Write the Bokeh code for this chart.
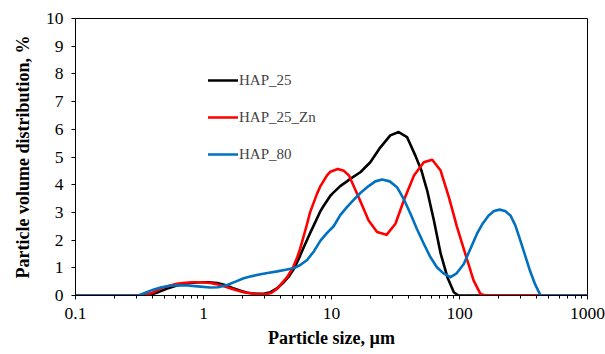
from bokeh.plotting import figure
from bokeh.models import Legend, LegendItem, FixedTicker, CustomJSTickFormatter, Range1d
from bokeh.embed import file_html
from bokeh.resources import INLINE

# ---- data ----
hap25_x = [0.1, 0.37, 0.43, 0.52, 0.62, 0.70, 0.82, 0.95, 1.1, 1.28, 1.5, 1.73, 1.95, 2.19, 2.63,
           3.0, 3.34, 3.8, 4.24, 4.7, 5.1, 5.7, 6.07, 6.8, 7.3, 8.2, 8.72, 9.8, 10.4, 11.7, 13.2,
           14.1, 16.8, 20.1, 24.1, 28.8, 33.5, 38.9, 45.2, 50.5, 55.9, 63.1, 71.2, 80.4, 90.3, 98, 1000]
hap25_y = [0, 0, 0.1, 0.25, 0.36, 0.42, 0.46, 0.48, 0.48, 0.45, 0.37, 0.25, 0.17, 0.1, 0.06,
           0.07, 0.12, 0.28, 0.48, 0.72, 0.97, 1.45, 1.74, 2.25, 2.55, 3.05, 3.25, 3.6, 3.72, 3.95, 4.12,
           4.22, 4.45, 4.81, 5.35, 5.78, 5.9, 5.72, 5.05, 4.5, 3.79, 2.71, 1.52, 0.66, 0.12, 0.0, 0]

hap25zn_x = [0.1, 0.34, 0.4, 0.46, 0.54, 0.62, 0.72, 0.84, 0.98, 1.13, 1.32, 1.53, 1.78, 2.06, 2.5,
             3.05, 3.4, 3.77, 4.5, 5.0, 5.4, 5.7, 6.45, 6.8, 7.7, 8.2, 9.2, 9.8, 11.2, 12.5, 13.7,
             16.3, 19.5, 22.7, 26.9, 31.6, 36.7, 44.1, 52.6, 61.2, 71.2, 82.6, 95.7, 111, 129, 146, 160, 1000]
hap25zn_y = [0, 0, 0.1, 0.25, 0.35, 0.42, 0.46, 0.48, 0.48, 0.45, 0.39, 0.3, 0.2, 0.12, 0.06,
             0.04, 0.1, 0.25, 0.66, 1.0, 1.38, 1.7, 2.59, 3.0, 3.67, 3.95, 4.33, 4.47, 4.57, 4.5, 4.33,
             3.55, 2.71, 2.29, 2.19, 2.59, 3.43, 4.33, 4.81, 4.9, 4.51, 3.55, 2.47, 1.5, 0.54, 0.05, 0, 0]

hap80_x = [0.1, 0.31, 0.36, 0.41, 0.47, 0.55, 0.65, 0.75, 0.9, 1.13, 1.3, 1.53, 1.78, 2.06, 2.4,
           2.79, 3.25, 3.77, 4.4, 5.1, 5.7, 6.45, 7.3, 8.2, 9.2, 10.4, 11.7, 13.2, 14.9, 16.8, 19.5,
           22, 24.9, 28.5, 32.5, 36.5, 41.4, 46.5, 52.6, 59, 66.6, 75, 85, 95, 108, 122, 137, 152,
           169, 186, 206, 227, 250, 273, 299, 326, 355, 390, 430, 1000]
hap80_y = [0, 0, 0.12, 0.22, 0.3, 0.35, 0.37, 0.36, 0.33, 0.29, 0.3, 0.38, 0.5, 0.62, 0.7,
           0.77, 0.82, 0.87, 0.93, 0.99, 1.1, 1.28, 1.6, 1.98, 2.25, 2.5, 2.9, 3.19, 3.45, 3.7, 3.95,
           4.12, 4.19, 4.12, 3.91, 3.5, 2.95, 2.4, 1.87, 1.4, 1.02, 0.8, 0.66, 0.8, 1.14, 1.7, 2.23, 2.6,
           2.89, 3.05, 3.1, 3.05, 2.89, 2.53, 1.98, 1.44, 0.9, 0.4, 0, 0]

series_names = ["HAP_25", "HAP_25_Zn", "HAP_80"]
series_colors = ["#000000", "#FF0000", "#0070C0"]

x_major = [0.1, 1, 10, 100, 1000]
y_major = [0, 1, 2, 3, 4, 5, 6, 7, 8, 9, 10]

x_minor = [m * d for d in [0.1, 1, 10, 100] for m in range(2, 10)]

FONT = "Times New Roman"

p = figure(width=605, height=354, x_axis_type="log",
           x_range=Range1d(0.1, 1000), y_range=Range1d(0, 10),
           output_backend="svg", toolbar_location=None,
           min_border_left=75, min_border_right=18, min_border_top=18, min_border_bottom=59)

p.background_fill_color = "white"
p.border_fill_color = "white"
p.outline_line_color = "black"
p.outline_line_width = 1
p.grid.visible = False

renderers = []
for xs, ys, c in zip([hap25_x, hap25zn_x, hap80_x], [hap25_y, hap25zn_y, hap80_y], series_colors):
    r = p.line(xs, ys, line_color=c, line_width=2.6, line_join="round", line_cap="round")
    renderers.append(r)

p.xaxis.ticker = FixedTicker(ticks=x_major, minor_ticks=x_minor)
p.xaxis.formatter = CustomJSTickFormatter(code="return tick < 1 ? tick.toFixed(1) : tick.toFixed(0);")
p.yaxis.ticker = FixedTicker(ticks=y_major)

for ax in [p.xaxis[0], p.yaxis[0]]:
    ax.axis_line_color = "black"
    ax.axis_line_width = 1
    ax.major_tick_line_color = "black"
    ax.minor_tick_line_color = "black"
    ax.major_tick_in = 0
    ax.minor_tick_in = 0
    ax.major_label_text_font = FONT
    ax.major_label_text_font_size = "17.5px"
    ax.major_label_text_color = "black"
    ax.axis_label_text_font = FONT
    ax.axis_label_text_font_size = "18px"
    ax.axis_label_text_font_style = "bold"
    ax.axis_label_text_color = "black"

p.xaxis.major_tick_out = 4
p.xaxis.minor_tick_out = 3
p.xaxis.major_label_standoff = 8
p.xaxis.axis_label = "Particle size, µm"
p.xaxis.axis_label_standoff = 6

p.yaxis.major_tick_out = 4
p.yaxis.minor_tick_line_color = None
p.yaxis.major_label_standoff = 8
p.yaxis.axis_label = "Particle volume distribution, %"
p.yaxis.axis_label_standoff = 10

items = [LegendItem(label=n, renderers=[r]) for n, r in zip(series_names, renderers)]
legend = Legend(items=items, location=(133, 131), padding=0, margin=0,
                glyph_width=30, glyph_height=20, label_standoff=1, spacing=17,
                label_text_font=FONT, label_text_font_size="15px",
                background_fill_alpha=0, border_line_color=None)
p.add_layout(legend, "center")

open("out.html", "w").write(file_html(p, INLINE))
